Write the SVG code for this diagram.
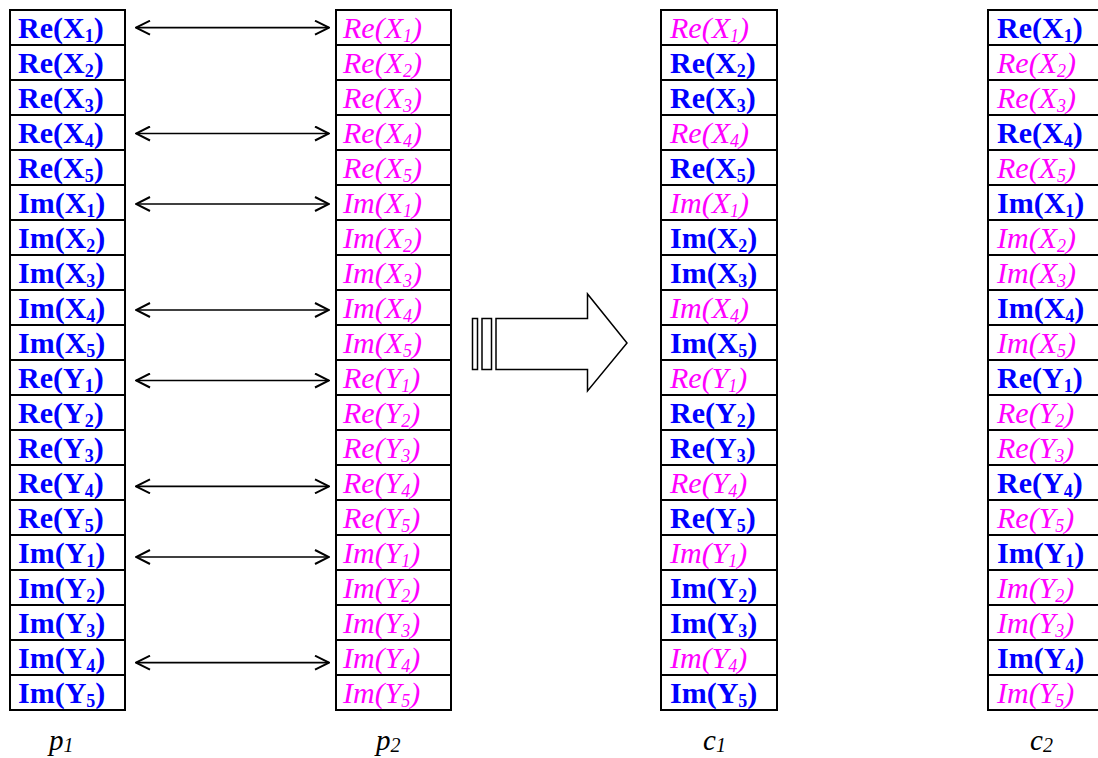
<svg xmlns="http://www.w3.org/2000/svg" width="1098" height="758" viewBox="0 0 1098 758">
<style>
rect.c{fill:#fff;stroke:#000;stroke-width:2}
text{font-family:"Liberation Serif","Times New Roman",serif;font-size:30px}
.b{font-weight:bold;fill:#0000FF}
.i{font-style:italic;fill:#FF00FF}
.s{font-size:18px}
.lab{font-style:italic;font-size:29px;fill:#000}
.ls{font-size:20px}
.cn line{stroke:#000;stroke-width:1.7}
.big{fill:#fff;stroke:#000;stroke-width:1.5}
</style>
<defs>
<marker id="ah" viewBox="0 0 16 16" refX="15" refY="8" markerWidth="16" markerHeight="16" markerUnits="userSpaceOnUse" orient="auto-start-reverse">
<path d="M1,1 L15,8 L1,15" fill="none" stroke="#000" stroke-width="2"/>
</marker>
</defs>
<rect width="1098" height="758" fill="#fff"/>

<g id="p1">
<g id="p1-0"><rect class="c" x="10" y="10" width="115" height="35"/><text class="b" x="18" y="37.5">Re(X<tspan class="s" dy="4">1</tspan><tspan dy="-4">)</tspan></text></g>
<g id="p1-1"><rect class="c" x="10" y="45" width="115" height="35"/><text class="b" x="18" y="72.5">Re(X<tspan class="s" dy="4">2</tspan><tspan dy="-4">)</tspan></text></g>
<g id="p1-2"><rect class="c" x="10" y="80" width="115" height="35"/><text class="b" x="18" y="107.5">Re(X<tspan class="s" dy="4">3</tspan><tspan dy="-4">)</tspan></text></g>
<g id="p1-3"><rect class="c" x="10" y="115" width="115" height="35"/><text class="b" x="18" y="142.5">Re(X<tspan class="s" dy="4">4</tspan><tspan dy="-4">)</tspan></text></g>
<g id="p1-4"><rect class="c" x="10" y="150" width="115" height="35"/><text class="b" x="18" y="177.5">Re(X<tspan class="s" dy="4">5</tspan><tspan dy="-4">)</tspan></text></g>
<g id="p1-5"><rect class="c" x="10" y="185" width="115" height="35"/><text class="b" x="18" y="212.5">Im(X<tspan class="s" dy="4">1</tspan><tspan dy="-4">)</tspan></text></g>
<g id="p1-6"><rect class="c" x="10" y="220" width="115" height="35"/><text class="b" x="18" y="247.5">Im(X<tspan class="s" dy="4">2</tspan><tspan dy="-4">)</tspan></text></g>
<g id="p1-7"><rect class="c" x="10" y="255" width="115" height="35"/><text class="b" x="18" y="282.5">Im(X<tspan class="s" dy="4">3</tspan><tspan dy="-4">)</tspan></text></g>
<g id="p1-8"><rect class="c" x="10" y="290" width="115" height="35"/><text class="b" x="18" y="317.5">Im(X<tspan class="s" dy="4">4</tspan><tspan dy="-4">)</tspan></text></g>
<g id="p1-9"><rect class="c" x="10" y="325" width="115" height="35"/><text class="b" x="18" y="352.5">Im(X<tspan class="s" dy="4">5</tspan><tspan dy="-4">)</tspan></text></g>
<g id="p1-10"><rect class="c" x="10" y="360" width="115" height="35"/><text class="b" x="18" y="387.5">Re(Y<tspan class="s" dy="4">1</tspan><tspan dy="-4">)</tspan></text></g>
<g id="p1-11"><rect class="c" x="10" y="395" width="115" height="35"/><text class="b" x="18" y="422.5">Re(Y<tspan class="s" dy="4">2</tspan><tspan dy="-4">)</tspan></text></g>
<g id="p1-12"><rect class="c" x="10" y="430" width="115" height="35"/><text class="b" x="18" y="457.5">Re(Y<tspan class="s" dy="4">3</tspan><tspan dy="-4">)</tspan></text></g>
<g id="p1-13"><rect class="c" x="10" y="465" width="115" height="35"/><text class="b" x="18" y="492.5">Re(Y<tspan class="s" dy="4">4</tspan><tspan dy="-4">)</tspan></text></g>
<g id="p1-14"><rect class="c" x="10" y="500" width="115" height="35"/><text class="b" x="18" y="527.5">Re(Y<tspan class="s" dy="4">5</tspan><tspan dy="-4">)</tspan></text></g>
<g id="p1-15"><rect class="c" x="10" y="535" width="115" height="35"/><text class="b" x="18" y="562.5">Im(Y<tspan class="s" dy="4">1</tspan><tspan dy="-4">)</tspan></text></g>
<g id="p1-16"><rect class="c" x="10" y="570" width="115" height="35"/><text class="b" x="18" y="597.5">Im(Y<tspan class="s" dy="4">2</tspan><tspan dy="-4">)</tspan></text></g>
<g id="p1-17"><rect class="c" x="10" y="605" width="115" height="35"/><text class="b" x="18" y="632.5">Im(Y<tspan class="s" dy="4">3</tspan><tspan dy="-4">)</tspan></text></g>
<g id="p1-18"><rect class="c" x="10" y="640" width="115" height="35"/><text class="b" x="18" y="667.5">Im(Y<tspan class="s" dy="4">4</tspan><tspan dy="-4">)</tspan></text></g>
<g id="p1-19"><rect class="c" x="10" y="675" width="115" height="35"/><text class="b" x="18" y="702.5">Im(Y<tspan class="s" dy="4">5</tspan><tspan dy="-4">)</tspan></text></g>
</g>

<g id="p2">
<g id="p2-0"><rect class="c" x="336" y="10" width="115" height="35"/><text class="i" x="343" y="37.5">Re(X<tspan class="s" dy="4">1</tspan><tspan dy="-4">)</tspan></text></g>
<g id="p2-1"><rect class="c" x="336" y="45" width="115" height="35"/><text class="i" x="343" y="72.5">Re(X<tspan class="s" dy="4">2</tspan><tspan dy="-4">)</tspan></text></g>
<g id="p2-2"><rect class="c" x="336" y="80" width="115" height="35"/><text class="i" x="343" y="107.5">Re(X<tspan class="s" dy="4">3</tspan><tspan dy="-4">)</tspan></text></g>
<g id="p2-3"><rect class="c" x="336" y="115" width="115" height="35"/><text class="i" x="343" y="142.5">Re(X<tspan class="s" dy="4">4</tspan><tspan dy="-4">)</tspan></text></g>
<g id="p2-4"><rect class="c" x="336" y="150" width="115" height="35"/><text class="i" x="343" y="177.5">Re(X<tspan class="s" dy="4">5</tspan><tspan dy="-4">)</tspan></text></g>
<g id="p2-5"><rect class="c" x="336" y="185" width="115" height="35"/><text class="i" x="343" y="212.5">Im(X<tspan class="s" dy="4">1</tspan><tspan dy="-4">)</tspan></text></g>
<g id="p2-6"><rect class="c" x="336" y="220" width="115" height="35"/><text class="i" x="343" y="247.5">Im(X<tspan class="s" dy="4">2</tspan><tspan dy="-4">)</tspan></text></g>
<g id="p2-7"><rect class="c" x="336" y="255" width="115" height="35"/><text class="i" x="343" y="282.5">Im(X<tspan class="s" dy="4">3</tspan><tspan dy="-4">)</tspan></text></g>
<g id="p2-8"><rect class="c" x="336" y="290" width="115" height="35"/><text class="i" x="343" y="317.5">Im(X<tspan class="s" dy="4">4</tspan><tspan dy="-4">)</tspan></text></g>
<g id="p2-9"><rect class="c" x="336" y="325" width="115" height="35"/><text class="i" x="343" y="352.5">Im(X<tspan class="s" dy="4">5</tspan><tspan dy="-4">)</tspan></text></g>
<g id="p2-10"><rect class="c" x="336" y="360" width="115" height="35"/><text class="i" x="343" y="387.5">Re(Y<tspan class="s" dy="4">1</tspan><tspan dy="-4">)</tspan></text></g>
<g id="p2-11"><rect class="c" x="336" y="395" width="115" height="35"/><text class="i" x="343" y="422.5">Re(Y<tspan class="s" dy="4">2</tspan><tspan dy="-4">)</tspan></text></g>
<g id="p2-12"><rect class="c" x="336" y="430" width="115" height="35"/><text class="i" x="343" y="457.5">Re(Y<tspan class="s" dy="4">3</tspan><tspan dy="-4">)</tspan></text></g>
<g id="p2-13"><rect class="c" x="336" y="465" width="115" height="35"/><text class="i" x="343" y="492.5">Re(Y<tspan class="s" dy="4">4</tspan><tspan dy="-4">)</tspan></text></g>
<g id="p2-14"><rect class="c" x="336" y="500" width="115" height="35"/><text class="i" x="343" y="527.5">Re(Y<tspan class="s" dy="4">5</tspan><tspan dy="-4">)</tspan></text></g>
<g id="p2-15"><rect class="c" x="336" y="535" width="115" height="35"/><text class="i" x="343" y="562.5">Im(Y<tspan class="s" dy="4">1</tspan><tspan dy="-4">)</tspan></text></g>
<g id="p2-16"><rect class="c" x="336" y="570" width="115" height="35"/><text class="i" x="343" y="597.5">Im(Y<tspan class="s" dy="4">2</tspan><tspan dy="-4">)</tspan></text></g>
<g id="p2-17"><rect class="c" x="336" y="605" width="115" height="35"/><text class="i" x="343" y="632.5">Im(Y<tspan class="s" dy="4">3</tspan><tspan dy="-4">)</tspan></text></g>
<g id="p2-18"><rect class="c" x="336" y="640" width="115" height="35"/><text class="i" x="343" y="667.5">Im(Y<tspan class="s" dy="4">4</tspan><tspan dy="-4">)</tspan></text></g>
<g id="p2-19"><rect class="c" x="336" y="675" width="115" height="35"/><text class="i" x="343" y="702.5">Im(Y<tspan class="s" dy="4">5</tspan><tspan dy="-4">)</tspan></text></g>
</g>

<g id="c1">
<g id="c1-0"><rect class="c" x="661" y="10" width="116" height="35"/><text class="i" x="670" y="37.5">Re(X<tspan class="s" dy="4">1</tspan><tspan dy="-4">)</tspan></text></g>
<g id="c1-1"><rect class="c" x="661" y="45" width="116" height="35"/><text class="b" x="670" y="72.5">Re(X<tspan class="s" dy="4">2</tspan><tspan dy="-4">)</tspan></text></g>
<g id="c1-2"><rect class="c" x="661" y="80" width="116" height="35"/><text class="b" x="670" y="107.5">Re(X<tspan class="s" dy="4">3</tspan><tspan dy="-4">)</tspan></text></g>
<g id="c1-3"><rect class="c" x="661" y="115" width="116" height="35"/><text class="i" x="670" y="142.5">Re(X<tspan class="s" dy="4">4</tspan><tspan dy="-4">)</tspan></text></g>
<g id="c1-4"><rect class="c" x="661" y="150" width="116" height="35"/><text class="b" x="670" y="177.5">Re(X<tspan class="s" dy="4">5</tspan><tspan dy="-4">)</tspan></text></g>
<g id="c1-5"><rect class="c" x="661" y="185" width="116" height="35"/><text class="i" x="670" y="212.5">Im(X<tspan class="s" dy="4">1</tspan><tspan dy="-4">)</tspan></text></g>
<g id="c1-6"><rect class="c" x="661" y="220" width="116" height="35"/><text class="b" x="670" y="247.5">Im(X<tspan class="s" dy="4">2</tspan><tspan dy="-4">)</tspan></text></g>
<g id="c1-7"><rect class="c" x="661" y="255" width="116" height="35"/><text class="b" x="670" y="282.5">Im(X<tspan class="s" dy="4">3</tspan><tspan dy="-4">)</tspan></text></g>
<g id="c1-8"><rect class="c" x="661" y="290" width="116" height="35"/><text class="i" x="670" y="317.5">Im(X<tspan class="s" dy="4">4</tspan><tspan dy="-4">)</tspan></text></g>
<g id="c1-9"><rect class="c" x="661" y="325" width="116" height="35"/><text class="b" x="670" y="352.5">Im(X<tspan class="s" dy="4">5</tspan><tspan dy="-4">)</tspan></text></g>
<g id="c1-10"><rect class="c" x="661" y="360" width="116" height="35"/><text class="i" x="670" y="387.5">Re(Y<tspan class="s" dy="4">1</tspan><tspan dy="-4">)</tspan></text></g>
<g id="c1-11"><rect class="c" x="661" y="395" width="116" height="35"/><text class="b" x="670" y="422.5">Re(Y<tspan class="s" dy="4">2</tspan><tspan dy="-4">)</tspan></text></g>
<g id="c1-12"><rect class="c" x="661" y="430" width="116" height="35"/><text class="b" x="670" y="457.5">Re(Y<tspan class="s" dy="4">3</tspan><tspan dy="-4">)</tspan></text></g>
<g id="c1-13"><rect class="c" x="661" y="465" width="116" height="35"/><text class="i" x="670" y="492.5">Re(Y<tspan class="s" dy="4">4</tspan><tspan dy="-4">)</tspan></text></g>
<g id="c1-14"><rect class="c" x="661" y="500" width="116" height="35"/><text class="b" x="670" y="527.5">Re(Y<tspan class="s" dy="4">5</tspan><tspan dy="-4">)</tspan></text></g>
<g id="c1-15"><rect class="c" x="661" y="535" width="116" height="35"/><text class="i" x="670" y="562.5">Im(Y<tspan class="s" dy="4">1</tspan><tspan dy="-4">)</tspan></text></g>
<g id="c1-16"><rect class="c" x="661" y="570" width="116" height="35"/><text class="b" x="670" y="597.5">Im(Y<tspan class="s" dy="4">2</tspan><tspan dy="-4">)</tspan></text></g>
<g id="c1-17"><rect class="c" x="661" y="605" width="116" height="35"/><text class="b" x="670" y="632.5">Im(Y<tspan class="s" dy="4">3</tspan><tspan dy="-4">)</tspan></text></g>
<g id="c1-18"><rect class="c" x="661" y="640" width="116" height="35"/><text class="i" x="670" y="667.5">Im(Y<tspan class="s" dy="4">4</tspan><tspan dy="-4">)</tspan></text></g>
<g id="c1-19"><rect class="c" x="661" y="675" width="116" height="35"/><text class="b" x="670" y="702.5">Im(Y<tspan class="s" dy="4">5</tspan><tspan dy="-4">)</tspan></text></g>
</g>

<g id="c2">
<g id="c2-0"><rect class="c" x="988" y="10" width="116" height="35"/><text class="b" x="997" y="37.5">Re(X<tspan class="s" dy="4">1</tspan><tspan dy="-4">)</tspan></text></g>
<g id="c2-1"><rect class="c" x="988" y="45" width="116" height="35"/><text class="i" x="997" y="72.5">Re(X<tspan class="s" dy="4">2</tspan><tspan dy="-4">)</tspan></text></g>
<g id="c2-2"><rect class="c" x="988" y="80" width="116" height="35"/><text class="i" x="997" y="107.5">Re(X<tspan class="s" dy="4">3</tspan><tspan dy="-4">)</tspan></text></g>
<g id="c2-3"><rect class="c" x="988" y="115" width="116" height="35"/><text class="b" x="997" y="142.5">Re(X<tspan class="s" dy="4">4</tspan><tspan dy="-4">)</tspan></text></g>
<g id="c2-4"><rect class="c" x="988" y="150" width="116" height="35"/><text class="i" x="997" y="177.5">Re(X<tspan class="s" dy="4">5</tspan><tspan dy="-4">)</tspan></text></g>
<g id="c2-5"><rect class="c" x="988" y="185" width="116" height="35"/><text class="b" x="997" y="212.5">Im(X<tspan class="s" dy="4">1</tspan><tspan dy="-4">)</tspan></text></g>
<g id="c2-6"><rect class="c" x="988" y="220" width="116" height="35"/><text class="i" x="997" y="247.5">Im(X<tspan class="s" dy="4">2</tspan><tspan dy="-4">)</tspan></text></g>
<g id="c2-7"><rect class="c" x="988" y="255" width="116" height="35"/><text class="i" x="997" y="282.5">Im(X<tspan class="s" dy="4">3</tspan><tspan dy="-4">)</tspan></text></g>
<g id="c2-8"><rect class="c" x="988" y="290" width="116" height="35"/><text class="b" x="997" y="317.5">Im(X<tspan class="s" dy="4">4</tspan><tspan dy="-4">)</tspan></text></g>
<g id="c2-9"><rect class="c" x="988" y="325" width="116" height="35"/><text class="i" x="997" y="352.5">Im(X<tspan class="s" dy="4">5</tspan><tspan dy="-4">)</tspan></text></g>
<g id="c2-10"><rect class="c" x="988" y="360" width="116" height="35"/><text class="b" x="997" y="387.5">Re(Y<tspan class="s" dy="4">1</tspan><tspan dy="-4">)</tspan></text></g>
<g id="c2-11"><rect class="c" x="988" y="395" width="116" height="35"/><text class="i" x="997" y="422.5">Re(Y<tspan class="s" dy="4">2</tspan><tspan dy="-4">)</tspan></text></g>
<g id="c2-12"><rect class="c" x="988" y="430" width="116" height="35"/><text class="i" x="997" y="457.5">Re(Y<tspan class="s" dy="4">3</tspan><tspan dy="-4">)</tspan></text></g>
<g id="c2-13"><rect class="c" x="988" y="465" width="116" height="35"/><text class="b" x="997" y="492.5">Re(Y<tspan class="s" dy="4">4</tspan><tspan dy="-4">)</tspan></text></g>
<g id="c2-14"><rect class="c" x="988" y="500" width="116" height="35"/><text class="i" x="997" y="527.5">Re(Y<tspan class="s" dy="4">5</tspan><tspan dy="-4">)</tspan></text></g>
<g id="c2-15"><rect class="c" x="988" y="535" width="116" height="35"/><text class="b" x="997" y="562.5">Im(Y<tspan class="s" dy="4">1</tspan><tspan dy="-4">)</tspan></text></g>
<g id="c2-16"><rect class="c" x="988" y="570" width="116" height="35"/><text class="i" x="997" y="597.5">Im(Y<tspan class="s" dy="4">2</tspan><tspan dy="-4">)</tspan></text></g>
<g id="c2-17"><rect class="c" x="988" y="605" width="116" height="35"/><text class="i" x="997" y="632.5">Im(Y<tspan class="s" dy="4">3</tspan><tspan dy="-4">)</tspan></text></g>
<g id="c2-18"><rect class="c" x="988" y="640" width="116" height="35"/><text class="b" x="997" y="667.5">Im(Y<tspan class="s" dy="4">4</tspan><tspan dy="-4">)</tspan></text></g>
<g id="c2-19"><rect class="c" x="988" y="675" width="116" height="35"/><text class="i" x="997" y="702.5">Im(Y<tspan class="s" dy="4">5</tspan><tspan dy="-4">)</tspan></text></g>
</g>

<g id="connectors" class="cn">
<line x1="136" y1="27.7" x2="329" y2="27.7" marker-start="url(#ah)" marker-end="url(#ah)"/>
<line x1="136" y1="133.5" x2="329" y2="133.5" marker-start="url(#ah)" marker-end="url(#ah)"/>
<line x1="136" y1="204" x2="329" y2="204" marker-start="url(#ah)" marker-end="url(#ah)"/>
<line x1="136" y1="310" x2="329" y2="310" marker-start="url(#ah)" marker-end="url(#ah)"/>
<line x1="136" y1="380.5" x2="329" y2="380.5" marker-start="url(#ah)" marker-end="url(#ah)"/>
<line x1="136" y1="486.3" x2="329" y2="486.3" marker-start="url(#ah)" marker-end="url(#ah)"/>
<line x1="136" y1="557" x2="329" y2="557" marker-start="url(#ah)" marker-end="url(#ah)"/>
<line x1="136" y1="662.7" x2="329" y2="662.7" marker-start="url(#ah)" marker-end="url(#ah)"/>
</g>

<g id="bigarrow">
<rect class="big" x="472.5" y="318.5" width="5" height="51"/>
<rect class="big" x="482" y="318.5" width="9.5" height="51"/>
<polygon class="big" points="496,318.5 587.5,318.5 587.5,294 627,343 587.5,391 587.5,369.5 496,369.5"/>
</g>

<g id="labels">
<text class="lab" x="49" y="750">p<tspan class="ls" dy="2">1</tspan></text>
<text class="lab" x="376" y="750">p<tspan class="ls" dy="2">2</tspan></text>
<text class="lab" x="703" y="750">c<tspan class="ls" dy="2">1</tspan></text>
<text class="lab" x="1030" y="750">c<tspan class="ls" dy="2">2</tspan></text>
</g>
</svg>
